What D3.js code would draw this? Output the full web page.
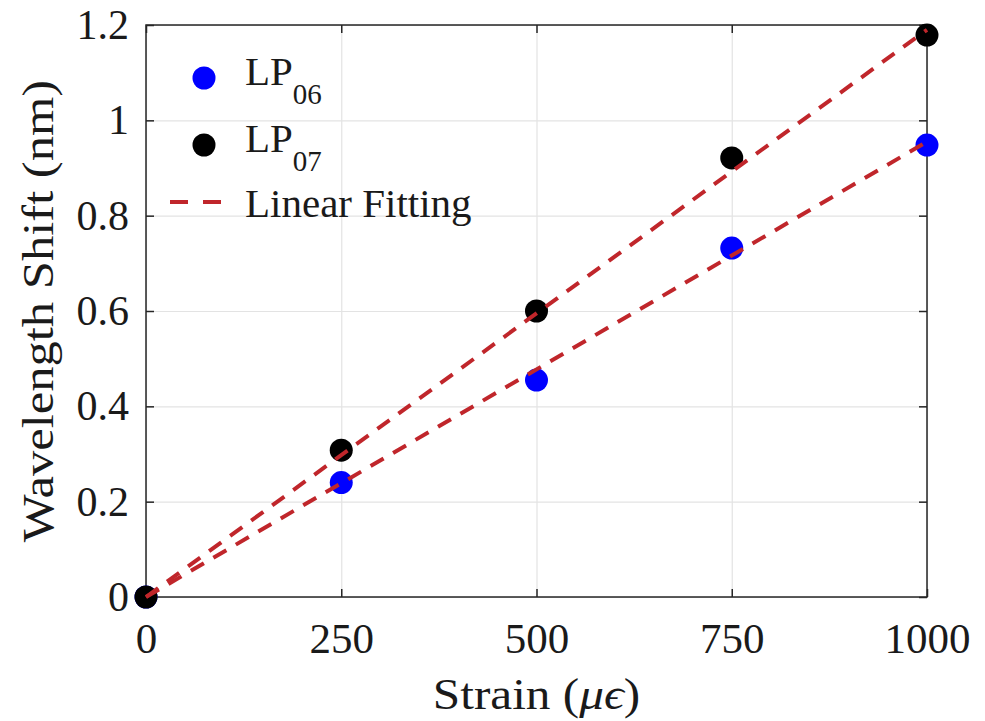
<!DOCTYPE html>
<html>
<head>
<meta charset="utf-8">
<script src="https://cdn.jsdelivr.net/npm/d3@7"></script>
<style>
  body { margin: 0; background: #fff; }
  svg text { font-family: "Liberation Serif", Tinos, "Times New Roman", Times, serif; fill: #1a1a1a; }
</style>
</head>
<body>
<div id="chart"></div>
<script>
// Data
const strain = [0, 250, 500, 750, 1000];
const lp06 = [0, 0.24, 0.455, 0.732, 0.948];
const lp07 = [0, 0.308, 0.60, 0.921, 1.179];
// linear fitting end points (strain 0 and 1000)
const fitX = [0, 1000];
const fit06 = [0, 0.955];
const fit07 = [0, 1.19];
const xTicks = [0, 250, 500, 750, 1000];
const yTicks = [0, 0.2, 0.4, 0.6, 0.8, 1, 1.2];

const W = 985, H = 721;
const MARGIN = {TOP: 25, BOTTOM: 124, LEFT: 146, RIGHT: 58};
const WIDTH = W - MARGIN.LEFT - MARGIN.RIGHT;
const HEIGHT = H - MARGIN.TOP - MARGIN.BOTTOM;
const FIT_COLOR = "#c0262b";
const FONT = '"Liberation Serif", Tinos, "Times New Roman", Times, serif';

const svg = d3.select("#chart")
    .append("svg")
        .attr("width", W)
        .attr("height", H)
        .attr("font-family", FONT)
    .append("g")
        .attr("transform", `translate(${MARGIN.LEFT}, ${MARGIN.TOP})`);

const x = d3.scaleLinear().domain([0, 1000]).range([0, WIDTH]);
const y = d3.scaleLinear().domain([0, 1.2]).range([HEIGHT, 0]);

// Grid
svg.append("g")
    .call(d3.axisBottom(x).tickValues(xTicks).tickSize(HEIGHT).tickFormat(""))
    .call(g => g.select(".domain").remove())
    .call(g => g.selectAll("line").attr("stroke", "#e3e3e3").attr("stroke-width", 1.2));
svg.append("g")
    .call(d3.axisLeft(y).tickValues(yTicks).tickSize(-WIDTH).tickFormat(""))
    .call(g => g.select(".domain").remove())
    .call(g => g.selectAll("line").attr("stroke", "#e3e3e3").attr("stroke-width", 1.2));

// Box
svg.append("rect")
    .attr("width", WIDTH).attr("height", HEIGHT)
    .attr("fill", "none").attr("stroke", "#262626").attr("stroke-width", 1.5);

// Axes with inward ticks
const xAxis = svg.append("g")
    .attr("transform", `translate(0, ${HEIGHT})`)
    .call(d3.axisBottom(x).tickValues(xTicks).tickSizeInner(-8).tickSizeOuter(0).tickPadding(25)
        .tickFormat(d3.format("d")));
const xTop = svg.append("g")
    .call(d3.axisTop(x).tickValues(xTicks).tickSizeInner(-8).tickSizeOuter(0).tickFormat(""));
const yAxis = svg.append("g")
    .call(d3.axisLeft(y).tickValues(yTicks).tickSizeInner(-8).tickSizeOuter(0).tickPadding(17)
        .tickFormat(d => String(d)));
const yRight = svg.append("g")
    .attr("transform", `translate(${WIDTH}, 0)`)
    .call(d3.axisRight(y).tickValues(yTicks).tickSizeInner(-8).tickSizeOuter(0).tickFormat(""));

[xAxis, xTop, yAxis, yRight].forEach(g => {
    g.attr("font-family", FONT);
    g.select(".domain").remove();
    g.selectAll("line").attr("stroke", "#262626").attr("stroke-width", 1.5);
});
xAxis.selectAll("text").attr("font-size", 43).attr("fill", "#1a1a1a").attr("dy", "0.71em");
yAxis.selectAll("text").attr("font-size", 42).attr("fill", "#1a1a1a");

// Axis labels (the original lettering is a little wide)
const xl = svg.append("text")
    .attr("text-anchor", "middle")
    .attr("transform", `translate(${WIDTH / 2}, ${HEIGHT + 112}) scale(1.12, 1)`)
    .attr("font-size", 44);
xl.append("tspan").text("Strain (");
xl.append("tspan").attr("font-style", "italic").text("μϵ");
xl.append("tspan").text(")");

svg.append("text")
    .attr("text-anchor", "middle")
    .attr("transform", `translate(${-93}, ${HEIGHT / 2}) rotate(-90) scale(1.15, 1)`)
    .attr("font-size", 44)
    .text("Wavelength Shift (nm)");

// Points
const series = [
    {vals: lp06, color: "#0000ff"},
    {vals: lp07, color: "#000000"}
];
series.forEach(s => {
    svg.append("g").selectAll("circle")
        .data(strain.map((d, i) => [d, s.vals[i]]))
        .enter().append("circle")
        .attr("cx", d => x(d[0]))
        .attr("cy", d => y(d[1]))
        .attr("r", 11.5)
        .attr("fill", s.color);
});

// Fit lines
const line = d3.line().x(d => x(d[0])).y(d => y(d[1]));
[fit06, fit07].forEach(f => {
    svg.append("path")
        .datum(fitX.map((d, i) => [d, f[i]]))
        .attr("d", line)
        .attr("fill", "none")
        .attr("stroke", FIT_COLOR)
        .attr("stroke-width", 4)
        .attr("stroke-dasharray", "15 11");
});

// Legend
const leg = svg.append("g");
const legItems = [
    {type: "dot", color: "#0000ff", name: "LP", sub: "06", y: 53, base: 60},
    {type: "dot", color: "#000000", name: "LP", sub: "07", y: 120, base: 127},
    {type: "line", color: FIT_COLOR, name: "Linear Fitting", y: 177, base: 192}
];
legItems.forEach(it => {
    if (it.type === "dot") {
        leg.append("circle").attr("cx", 58).attr("cy", it.y).attr("r", 11.5).attr("fill", it.color);
    } else {
        leg.append("line").attr("x1", 24).attr("x2", 82).attr("y1", it.y).attr("y2", it.y)
            .attr("stroke", it.color).attr("stroke-width", 4).attr("stroke-dasharray", "18 15");
    }
    const t = leg.append("text")
        .attr("x", 99).attr("y", it.base)
        .attr("font-size", 41);
    t.append("tspan").text(it.name);
    if (it.sub) t.append("tspan").attr("font-size", 29).attr("dy", 19).text(it.sub);
});
</script>
</body>
</html>
